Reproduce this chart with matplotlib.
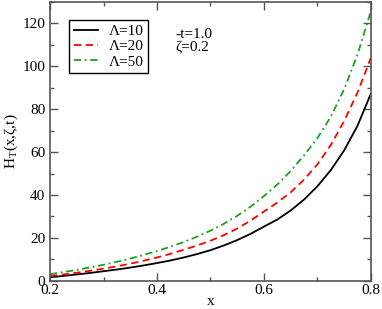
import matplotlib
matplotlib.use('Agg')
import matplotlib.pyplot as plt
from matplotlib.ticker import MultipleLocator

plt.rcParams['font.family'] = ['Liberation Serif', 'DejaVu Serif']
plt.rcParams['mathtext.fontset'] = 'custom'
plt.rcParams['mathtext.rm'] = 'Liberation Serif'

# values, every 0.025 in x
x = [0.2, 0.225, 0.25, 0.275, 0.3, 0.325, 0.35, 0.375, 0.4, 0.425, 0.45, 0.475, 0.5,
     0.525, 0.55, 0.575, 0.6, 0.625, 0.65, 0.675, 0.7, 0.725, 0.75, 0.775, 0.8]
h_10 = [1.7, 2.3, 3.0, 3.7, 4.5, 5.3, 6.2, 7.2, 8.3, 9.5, 10.9, 12.5, 14.3,
        16.5, 19.0, 21.9, 25.3, 28.6, 32.8, 37.9, 44.1, 51.6, 60.8, 72.3, 87.3]
h_20 = [2.3, 3.0, 3.8, 4.7, 5.7, 6.8, 8.0, 9.4, 10.9, 12.6, 14.5, 16.5, 18.7,
        21.3, 24.4, 28.1, 32.3, 36.5, 41.3, 47.2, 54.3, 63.3, 74.5, 87.8, 104.0]
h_50 = [3.1, 4.1, 5.1, 6.3, 7.5, 8.9, 10.4, 12.1, 13.9, 15.9, 18.1, 20.6, 23.4,
        26.6, 30.3, 34.6, 39.5, 44.9, 51.2, 58.5, 66.5, 76.5, 89.3, 105.5, 125.7]

labels = ['Λ=10', 'Λ=20', 'Λ=50']

fig = plt.figure(figsize=(3.82, 3.09), dpi=100)
ax = fig.add_axes([0.131, 0.091, 0.84, 0.903])

ax.plot(x, h_10, color='black', lw=1.3, ls='-', label=labels[0])
ax.plot(x, h_20, color='#ff0000', lw=1.3, ls=(0, (4, 2.5)), label=labels[1])
ax.plot(x, h_50, color='#1f9f1f', lw=1.3, ls=(0, (4, 2, 1, 2)), label=labels[2])

ax.set_xlim(0.2, 0.8)
ax.set_ylim(0, 130)
ax.set_xticks([0.2, 0.4, 0.6, 0.8])
ax.set_xticklabels(['0.2', '0.4', '0.6', '0.8'])
ax.xaxis.set_minor_locator(MultipleLocator(0.1))
ax.yaxis.set_major_locator(MultipleLocator(20))
ax.yaxis.set_minor_locator(MultipleLocator(10))
ax.tick_params(which='both', direction='in', top=True, right=True, color='#555555', labelsize=11)
ax.tick_params(which='major', length=6, width=1)
ax.tick_params(which='minor', length=3, width=1)
ax.tick_params(axis='x', pad=2)
for s in ax.spines.values():
    s.set_color('#555555')
    s.set_linewidth(1.2)

ax.set_xlabel('x', fontsize=11, labelpad=-1)
ax.set_ylabel(r'H$_\mathrm{T}$(x,ζ,t)', fontsize=11, labelpad=2)

ax.text(0.39, 0.858, '-t=1.0\nζ=0.2', transform=ax.transAxes, fontsize=11,
        va='center', ha='left', linespacing=1.05)

leg = ax.legend(loc='upper left', bbox_to_anchor=(0.06, 0.935), fontsize=11,
                frameon=True, fancybox=False, framealpha=1, edgecolor='black',
                handlelength=1.6, handletextpad=0.7, borderpad=0.3, labelspacing=0.1,
                borderaxespad=0)
leg.get_frame().set_linewidth(1.0)

fig.savefig('out.png', dpi=100)
